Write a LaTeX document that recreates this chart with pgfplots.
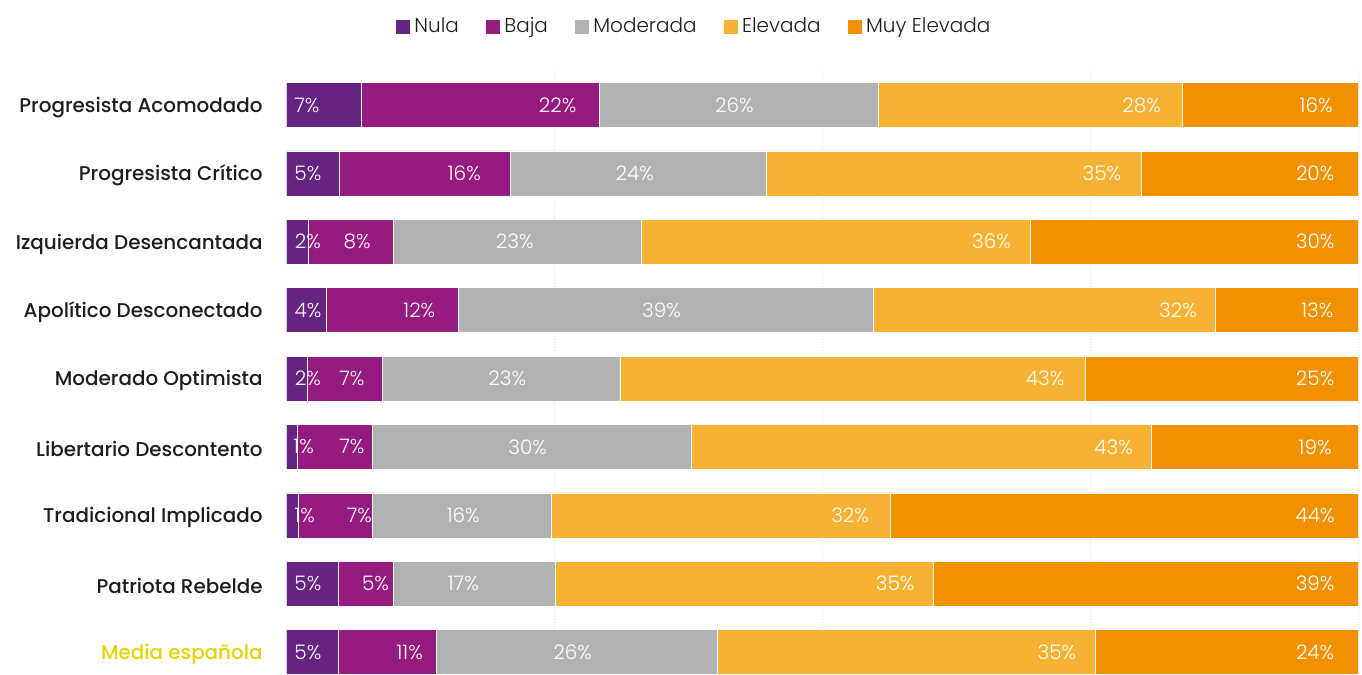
\documentclass[border=0pt]{standalone}
\usepackage{pgfplots}
\pgfplotsset{compat=1.18}
\usepackage{fontspec}
\setmainfont{Poppins}
\newfontfamily\catfont{Poppins Medium}
\newfontfamily\lightfont{Poppins Light}
\definecolor{nula}{HTML}{662482}
\definecolor{baja}{HTML}{951B81}
\definecolor{moder}{HTML}{B2B2B2}
\definecolor{elev}{HTML}{F7B133}
\definecolor{muyelev}{HTML}{F29100}
\definecolor{labeldark}{HTML}{1D1D1B}
\definecolor{medyellow}{HTML}{E3D400}
\begin{document}
\begin{tikzpicture}
\path[use as bounding box] (-143.25pt,0pt) rectangle (537.75pt,337.5pt);
\begin{axis}[
  scale only axis, width=535.75pt, height=302.5pt,
  xbar stacked, bar width=22.5pt,
  xmin=0, xmax=100, ymin=-0.512, ymax=8.336, y dir=reverse,
  ytick={0,...,8},
  yticklabels={Progresista Acomodado, Progresista Crítico, Izquierda Desencantada, Apolítico Desconectado, Moderado Optimista, Libertario Descontento, Tradicional Implicado, Patriota Rebelde, \textcolor{medyellow}{Media española}},
  xtick={25,50,75,100}, xticklabels={}, xmajorgrids,
  grid style={densely dotted, color=brown!25, line width=0.5pt},
  axis line style={draw=none}, major tick length=0pt,
  yticklabel style={font=\catfont\fontsize{9.95}{12}\selectfont, text=labeldark, anchor=east, inner sep=0pt, xshift=-11.75pt, yshift=-1.2pt},
  legend style={at={(0.381,1.072)}, anchor=center, draw=none, fill=none, legend columns=5,
    font=\lightfont\fontsize{10}{12}\selectfont, text=labeldark,
    /tikz/every even column/.append style={column sep=11pt}},
  legend image code/.code={\fill[#1] (0pt,-3.75pt) rectangle (7.5pt,3.75pt);},
  every axis plot/.append style={draw=white, line width=0.2pt},
]
\addplot[fill=nula] coordinates {(7.0,0) (4.9,1) (2.0,2) (3.7,3) (1.9,4) (1.0,5) (1.1,6) (4.8,7) (4.8,8)};
\addplot[fill=baja] coordinates {(22.2,0) (16.0,1) (8.0,2) (12.3,3) (7.0,4) (7.0,5) (6.9,6) (5.2,7) (9.2,8)};
\addplot[fill=moder] coordinates {(26.0,0) (23.9,1) (23.1,2) (38.8,3) (22.2,4) (29.8,5) (16.7,6) (15.1,7) (26.2,8)};
\addplot[fill=elev] coordinates {(28.4,0) (35.0,1) (36.3,2) (31.9,3) (43.4,4) (42.9,5) (31.6,6) (35.3,7) (35.3,8)};
\addplot[fill=muyelev] coordinates {(16.4,0) (20.2,1) (30.6,2) (13.3,3) (25.5,4) (19.3,5) (43.7,6) (39.6,7) (24.5,8)};
\legend{Nula,Baja,Moderada,Elevada,Muy Elevada}
\end{axis}
\begin{axis}[
  scale only axis, width=535.75pt, height=302.5pt,
  xmin=0, xmax=100, ymin=-0.512, ymax=8.336, y dir=reverse,
  hide axis,
]
\addplot[draw=none, mark=none, nodes near coords={\pgfplotspointmeta\%}, point meta=explicit symbolic,
  nodes near coords style={anchor=center, text=white, inner sep=0pt, font=\lightfont\fontsize{10}{12}\selectfont}]
  table[x=x, y=y, meta=l] {
x y l
1.9 0 7
25.3 0 22
41.8 0 26
79.8 0 28
96.1 0 16
2.0 1 5
16.6 1 16
32.5 1 24
76.1 1 35
96.0 1 20
2.0 2 2
6.6 2 8
21.3 2 23
65.8 2 36
96.0 2 30
2.0 3 4
12.4 3 12
35.0 3 39
83.2 3 32
96.2 3 13
2.0 4 2
6.1 4 7
20.6 4 23
70.8 4 43
96.0 4 25
1.6 5 1
6.1 5 7
22.5 5 30
77.2 5 43
96.0 5 19
1.7 6 1
6.8 6 7
16.5 6 16
52.6 6 32
96.0 6 44
2.0 7 5
8.3 7 5
16.5 7 17
56.8 7 35
96.0 7 39
2.0 8 5
11.5 8 11
26.7 8 26
71.9 8 35
96.0 8 24
};
\end{axis}
\end{tikzpicture}
\end{document}
